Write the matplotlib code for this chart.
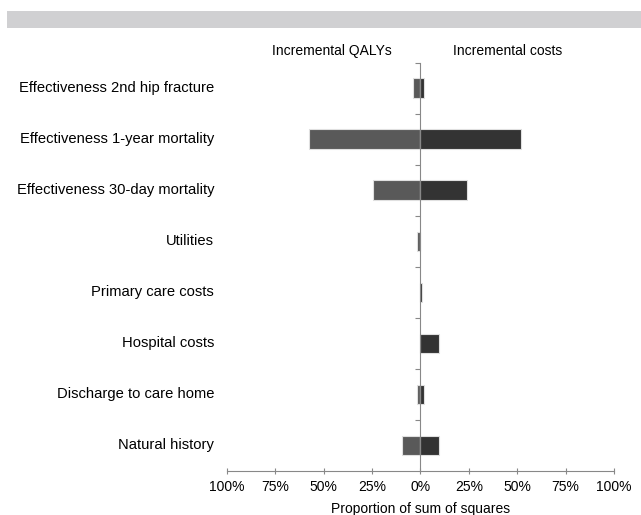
import numpy as np
import matplotlib
matplotlib.use("Agg")
import matplotlib.pyplot as plt
import matplotlib.transforms as mtransforms
from matplotlib.patches import Rectangle

plt.rcParams['font.family'] = ['Liberation Sans', 'DejaVu Sans']

# data (% of sum of squares)
categories = ['Effectiveness 2nd hip fracture', 'Effectiveness 1-year mortality',
              'Effectiveness 30-day mortality', 'Utilities', 'Primary care costs',
              'Hospital costs', 'Discharge to care home', 'Natural history']
qalys = [4, 57.5, 24.5, 2, 0, 0, 2, 9.5]
costs = [2, 52, 24, 0, 0.6, 9.5, 2, 9.5]
xticks = [-100, -75, -50, -25, 0, 25, 50, 75, 100]

fig = plt.figure(figsize=(6.41, 5.15), dpi=100)
ax = fig.add_axes([0.3537, 0.0854, 0.6043, 0.7932])

# grey band at the top
fig.patches.append(Rectangle((0.011, 0.9456), 0.989, 0.033, transform=fig.transFigure,
                             facecolor='#d0d0d2', edgecolor='none'))

y = np.arange(len(categories))
ax.barh(y, -np.array(qalys), height=0.38, color='#595959', edgecolor='#e0e0e0', linewidth=0.8, zorder=2)
ax.barh(y, costs, height=0.38, color='#333333', edgecolor='#e0e0e0', linewidth=0.8, zorder=2)

ax.set_xlim(-100, 100)
ax.set_ylim(len(categories) - 0.5, -0.5)

for s in ['top', 'right']:
    ax.spines[s].set_visible(False)
ax.spines['left'].set_position(('data', 0))
ax.spines['left'].set_color('#888888')
ax.spines['bottom'].set_color('#888888')
ax.spines['left'].set_zorder(3)

ax.set_yticks(np.arange(-0.5, len(categories) - 0.5, 1))
ax.set_yticklabels([])
ax.tick_params(axis='y', direction='out', length=3.5, color='#888888', width=0.8)

ax.set_xticks(xticks)
ax.set_xticklabels([f'{abs(v)}%' for v in xticks], fontsize=10)
ax.tick_params(axis='x', direction='inout', length=5, color='#888888', width=0.8, pad=4)
ax.set_xlabel('Proportion of sum of squares', fontsize=10, labelpad=6)

# category labels on the left
trans = mtransforms.offset_copy(ax.get_yaxis_transform(), fig=fig, x=-9, y=0, units='points')
for yi, lab in zip(y, categories):
    ax.text(0, yi, lab, transform=trans, ha='right', va='center', fontsize=10.6)

# headers
ax.text(-45.5, -0.5, 'Incremental QALYs', transform=mtransforms.offset_copy(ax.transData, fig=fig, y=3.5, units='points'),
        ha='center', va='bottom', fontsize=10)
ax.text(45, -0.5, 'Incremental costs', transform=mtransforms.offset_copy(ax.transData, fig=fig, y=3.5, units='points'),
        ha='center', va='bottom', fontsize=10)

fig.savefig('out.png', dpi=100)
